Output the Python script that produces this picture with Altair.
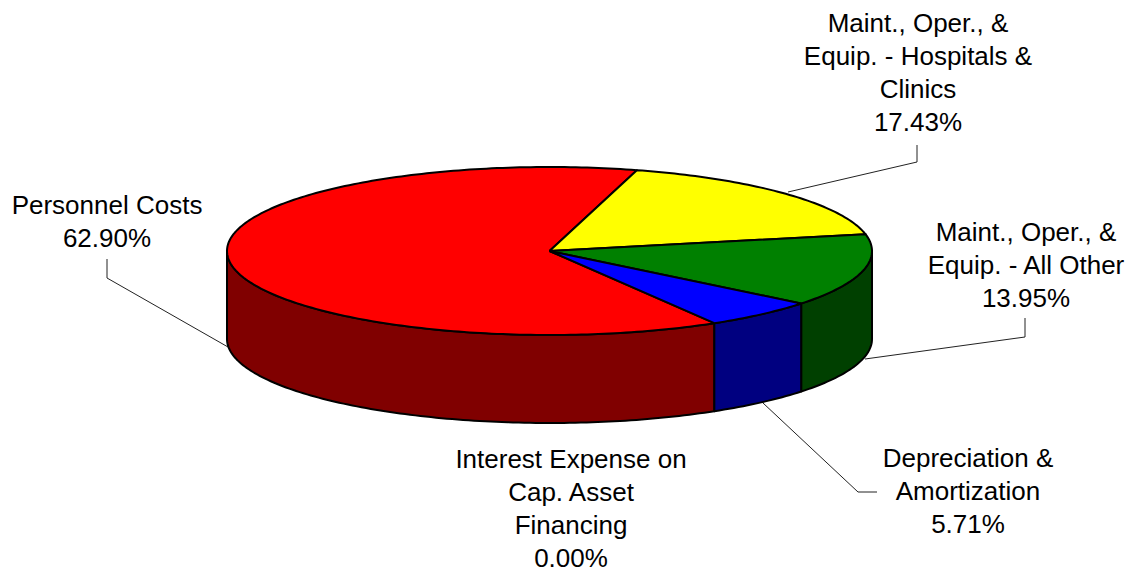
import math
import altair as alt
import pandas as pd

# ---- data ----
categories = [
    "Personnel Costs",
    "Maint., Oper., & Equip. - Hospitals & Clinics",
    "Maint., Oper., & Equip. - All Other",
    "Depreciation & Amortization",
    "Interest Expense on Cap. Asset Financing",
]
label_names = [
    "Personnel Costs",
    "Maint., Oper., &\nEquip. - Hospitals &\nClinics",
    "Maint., Oper., &\nEquip. - All Other",
    "Depreciation &\nAmortization",
    "Interest Expense on\nCap. Asset\nFinancing",
]
values = [62.90, 17.43, 13.95, 5.71, 0.00]
top_colors = ["#FF0000", "#FFFF00", "#008000", "#0000FF", "#00FFFF"]
side_colors = ["#800000", "#808000", "#004000", "#000080", "#008080"]

# ---- layout (image pixel space) ----
CX, CY, RX, RY, DEPTH = 549.5, 251.0, 322.5, 84.0, 88.0
START = 74.3 + 360 * values[0] / 100.0  # parametric angle, ccw from east
FONT = 26
LINE_H = 33
label_pos = [(107, 213.5), (918, 31.5), (1026, 240.5), (968, 466.5), (571, 468.0)]
leaders = [
    [(107, 259), (107, 278), (228, 347)],
    [(917, 145), (917, 162), (788, 192)],
    [(1025, 318), (1025, 337), (865, 359)],
    [(877, 492), (858, 492), (763, 403)],
]


def pt(t_deg, drop=0.0):
    t = math.radians(t_deg)
    return CX + RX * math.cos(t), CY - RY * math.sin(t) + drop


total = sum(values)
tops, sides = [], []
a = START
for k, v in enumerate(values):
    sweep = 360.0 * v / total
    a0, a1 = a, a - sweep
    a = a1
    if v <= 0:
        continue
    n = max(4, int(sweep))
    # top face
    pts = [(CX, CY)] + [pt(a0 - (a0 - a1) * i / n) for i in range(n + 1)] + [(CX, CY)]
    for i, (x, y) in enumerate(pts):
        tops.append(dict(shape=f"t{k}", i=i, x=x, y=y, fill=top_colors[k]))
    # side face: visible where sin(t) <= 0
    for base in (-360, 0, 360):
        lo, hi = max(a1, base - 180), min(a0, base)
        if hi - lo <= 0.01:
            continue
        m = max(4, int(hi - lo))
        arc = [hi - (hi - lo) * i / m for i in range(m + 1)]
        spts = [pt(t) for t in arc] + [pt(t, DEPTH) for t in reversed(arc)]
        spts.append(spts[0])
        for i, (x, y) in enumerate(spts):
            sides.append(dict(shape=f"s{k}_{base}", i=i, x=x, y=y, fill=side_colors[k]))

lead_rows = []
for k, seg in enumerate(leaders):
    for i, (x, y) in enumerate(seg):
        lead_rows.append(dict(shape=f"l{k}", i=i, x=x, y=y))

text_rows = [
    dict(label=f"{label_names[k]}\n{values[k]:.2f}%", x=label_pos[k][0], y=label_pos[k][1])
    for k in range(len(categories))
]

W, H = 1117, 565
xs = alt.Scale(domain=[8, 8 + W], nice=False, zero=False)
ys = alt.Scale(domain=[8, 8 + H], nice=False, zero=False, reverse=True)
X = alt.X("x:Q", scale=xs, axis=None)
Y = alt.Y("y:Q", scale=ys, axis=None)

side_layer = alt.Chart(pd.DataFrame(sides)).mark_line(
    stroke="black", strokeWidth=2, strokeJoin="round"
).encode(x=X, y=Y, detail="shape:N", order="i:Q", fill=alt.Fill("fill:N", scale=None))

top_layer = alt.Chart(pd.DataFrame(tops)).mark_line(
    stroke="black", strokeWidth=2, strokeJoin="round"
).encode(x=X, y=Y, detail="shape:N", order="i:Q", fill=alt.Fill("fill:N", scale=None))

lead_layer = alt.Chart(pd.DataFrame(lead_rows)).mark_line(
    stroke="#222222", strokeWidth=1
).encode(x=X, y=Y, detail="shape:N", order="i:Q")

text_layer = alt.Chart(pd.DataFrame(text_rows)).mark_text(
    font="Liberation Sans", fontSize=FONT, lineHeight=LINE_H, lineBreak="\n",
    align="center", baseline="alphabetic", color="black"
).encode(x=X, y=Y, text="label:N")

chart = alt.layer(lead_layer, side_layer, top_layer, text_layer).properties(
    width=W, height=H, padding=0, autosize="none"
).configure_view(stroke=None)

chart.save("out.html", embed_options={"renderer": "svg", "actions": False})
